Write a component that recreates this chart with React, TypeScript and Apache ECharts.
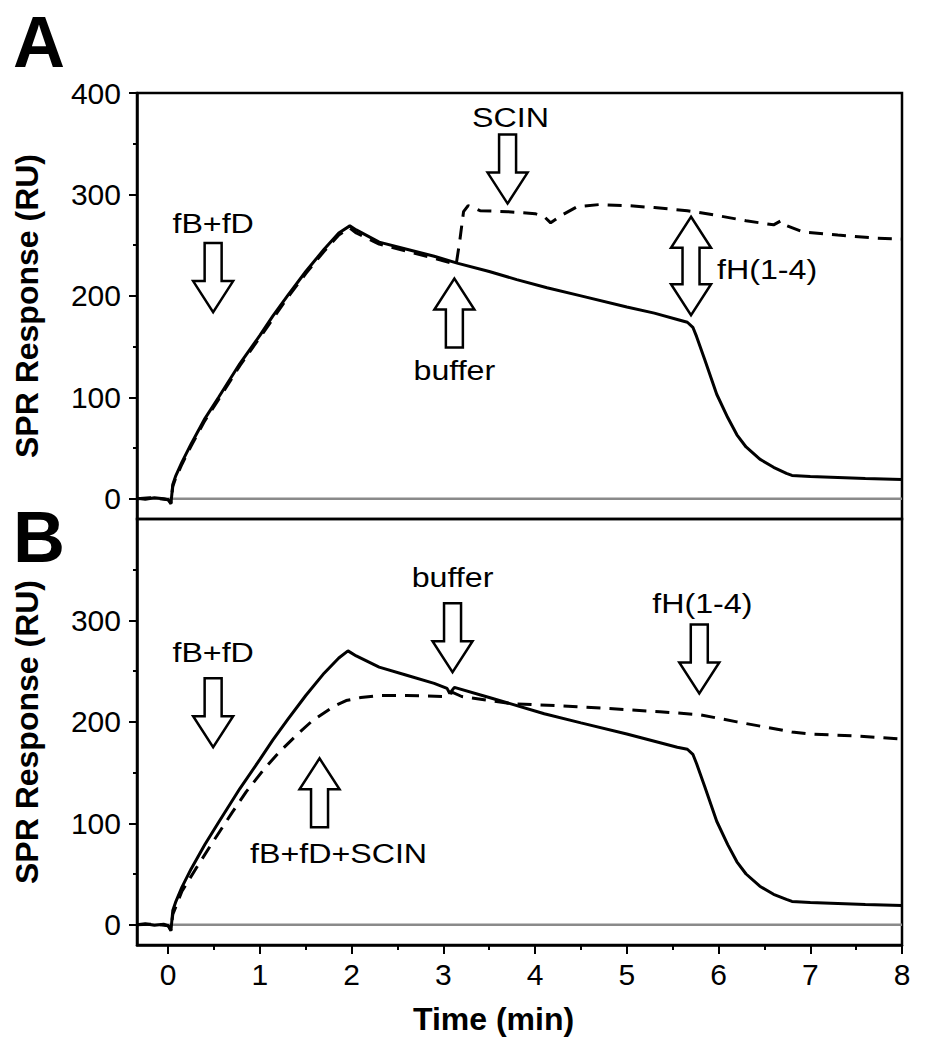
import React, { useEffect, useRef } from 'react';
import * as echarts from 'echarts';

// ---------------- data ----------------
const timeSolidA = [-0.34, -0.25, -0.15, -0.05, 0, 0.03, 0.05, 0.08, 0.15, 0.25, 0.4, 0.55, 0.78, 1.0, 1.14, 1.3, 1.5, 1.7, 1.86, 1.98, 2.05, 2.3, 2.6, 2.9, 3.16, 3.5, 3.8, 4.13, 4.5, 5.0, 5.3, 5.58, 5.66, 5.72, 5.76, 5.85, 5.98, 6.1, 6.2, 6.3, 6.45, 6.6, 6.74, 6.8, 7.0, 7.3, 7.6, 8.0];
const respSolidA = [0.5, -0.5, 1, 0, -1, -5, 14, 22, 36, 54, 79, 100, 133, 161, 180, 200, 224, 246, 262, 269, 265, 253, 246, 239, 232, 224, 216, 208, 200, 189, 183, 176, 174, 169, 160, 137, 103, 80, 63, 51, 39, 31, 25, 23, 22, 21, 20, 19];

const timeDashA = [-0.34, -0.2, -0.1, 0, 0.03, 0.05, 0.08, 0.15, 0.25, 0.4, 0.55, 0.78, 1.0, 1.3, 1.5, 1.7, 1.86, 1.98, 2.05, 2.3, 2.6, 2.9, 3.14, 3.18, 3.22, 3.27, 3.4, 3.7, 4.0, 4.1, 4.17, 4.3, 4.46, 4.7, 5.0, 5.3, 5.66, 6.0, 6.3, 6.6, 6.68, 6.72, 6.92, 7.3, 7.7, 8.0];
const respDashA = [0, 1, 0, -1, -4, 12, 20, 34, 52, 77, 98, 131, 159, 198, 222, 244, 260, 267, 262, 251, 244, 237, 231, 255, 283, 289, 284, 283, 281, 278, 272, 280, 288, 290, 289, 287, 284, 279, 274, 270, 274, 270, 263, 260, 257, 256];

const timeSolidB = [-0.34, -0.25, -0.15, -0.05, 0, 0.03, 0.05, 0.08, 0.15, 0.25, 0.4, 0.55, 0.78, 1.0, 1.14, 1.3, 1.5, 1.7, 1.86, 1.96, 2.05, 2.3, 2.6, 2.9, 3.04, 3.07, 3.12, 3.5, 4.1, 4.5, 5.0, 5.55, 5.66, 5.72, 5.76, 5.85, 5.98, 6.1, 6.2, 6.3, 6.45, 6.6, 6.74, 6.8, 7.0, 7.3, 7.6, 8.0];
const respSolidB = [0, 1, -0.5, 0.5, -1, -6, 14, 22, 37, 55, 79, 101, 134, 163, 182, 202, 226, 248, 263, 270, 265, 254, 246, 238, 233, 228, 234, 224, 208, 199, 188, 175, 173, 168, 159, 136, 102, 79, 62, 50, 38, 30, 25, 23, 22, 21, 20, 19];

const timeDashB = [-0.34, -0.2, -0.1, 0, 0.03, 0.05, 0.15, 0.3, 0.49, 0.7, 0.85, 1.05, 1.21, 1.4, 1.57, 1.8, 1.94, 2.1, 2.3, 2.6, 3.02, 3.1, 3.2, 3.74, 4.46, 5.36, 5.8, 6.2, 6.5, 6.8, 7.0, 7.5, 8.0];
const respDashB = [0, 0.5, 0, -1, -5, 10, 33, 55, 82, 111, 131, 154, 170, 187, 201, 215, 221, 224, 226, 226, 225, 229, 225, 218, 215, 210, 207, 200, 195, 190, 188, 186, 183];

const xMajorTicks = [0, 1, 2, 3, 4, 5, 6, 7, 8];
const xMinorTicks = [0.5, 1.5, 2.5, 3.5, 4.5, 5.5, 6.5, 7.5];
const yMajorTicksA = [0, 100, 200, 300, 400];
const yMajorTicksB = [0, 100, 200, 300];
const yMinorTicks = [50, 150, 250, 350];

// annotation arrows: tip position in data coordinates
const annotations = [
  { grid: 0, t: 0.49, v: 184, dir: 'down', label: 'fB+fD', dx: 0, dy: -89, align: 'center' },
  { grid: 0, t: 3.70, v: 291, dir: 'down', label: 'SCIN', dx: 3, dy: -86, align: 'center' },
  { grid: 0, t: 3.12, v: 217, dir: 'up', label: 'buffer', dx: 0, dy: 92, align: 'center' },
  { grid: 0, t: 5.70, v: 278, v2: 181, dir: 'double', label: 'fH(1-4)', dx: 26, dy: 53, align: 'left' },
  { grid: 1, t: 0.49, v: 175, dir: 'down', label: 'fB+fD', dx: 0, dy: -95, align: 'center' },
  { grid: 1, t: 3.10, v: 249, dir: 'down', label: 'buffer', dx: 0, dy: -95, align: 'center' },
  { grid: 1, t: 5.79, v: 228, dir: 'down', label: 'fH(1-4)', dx: 3, dy: -90, align: 'center' },
  { grid: 1, t: 1.65, v: 164, dir: 'up', label: 'fB+fD+SCIN', dx: 19, dy: 95, align: 'center' },
];

const FONT = '"Liberation Sans", Arial, Helvetica, sans-serif';
const X_MIN = -0.34;
const X_MAX = 8;
const Y_MIN = -20;
const Y_MAX = 400;

const zip = (ts: number[], vs: number[]) => ts.map((t, i) => [t, vs[i]]).filter((p) => p[1] !== undefined);

// arrow geometry (px)
const ARROW_LEN = 69;
const HEAD_LEN = 31;
const HEAD_W = 40;
const SHAFT_W = 17;

function arrowPoints(x: number, y: number, dir: string, y2?: number): number[][] {
  const s = SHAFT_W / 2;
  const h = HEAD_W / 2;
  if (dir === 'down') {
    return [[x - s, y - ARROW_LEN], [x + s, y - ARROW_LEN], [x + s, y - HEAD_LEN], [x + h, y - HEAD_LEN], [x, y], [x - h, y - HEAD_LEN], [x - s, y - HEAD_LEN]];
  }
  if (dir === 'up') {
    return [[x - s, y + ARROW_LEN], [x + s, y + ARROW_LEN], [x + s, y + HEAD_LEN], [x + h, y + HEAD_LEN], [x, y], [x - h, y + HEAD_LEN], [x - s, y + HEAD_LEN]];
  }
  const yb = y2 as number;
  return [
    [x, y], [x + h, y + HEAD_LEN], [x + s, y + HEAD_LEN], [x + s, yb - HEAD_LEN], [x + h, yb - HEAD_LEN],
    [x, yb], [x - h, yb - HEAD_LEN], [x - s, yb - HEAD_LEN], [x - s, y + HEAD_LEN], [x - h, y + HEAD_LEN],
  ];
}

const tickLabelStyle = { color: '#000', fontSize: 30, fontFamily: FONT };

function makeYAxes(grid: number, major: number[]) {
  return [
    {
      gridIndex: grid, type: 'value', position: 'left', min: Y_MIN, max: Y_MAX,
      name: 'SPR Response (RU)', nameLocation: 'middle', nameGap: 94,
      nameTextStyle: { color: '#000', fontSize: 32, fontWeight: 'bold', fontFamily: FONT },
      axisLine: { show: true, onZero: false, lineStyle: { color: '#000', width: 2.5 } },
      axisTick: { show: true, customValues: major, length: 8, lineStyle: { color: '#000', width: 2 } },
      axisLabel: { show: true, customValues: major, margin: 16, ...tickLabelStyle },
      splitLine: { show: false },
    },
    {
      gridIndex: grid, type: 'value', position: 'left', min: Y_MIN, max: Y_MAX,
      axisLine: { show: false, onZero: false },
      axisTick: { show: true, customValues: yMinorTicks, length: 4, lineStyle: { color: '#000', width: 2 } },
      axisLabel: { show: false },
      splitLine: { show: false },
    },
  ];
}

export default function App() {
  const ref = useRef<HTMLDivElement>(null);
  useEffect(() => {
    const chart = echarts.init(ref.current as HTMLDivElement, null, { renderer: 'svg' });
    const lineBase = { type: 'line', showSymbol: false, symbol: 'none', silent: true, z: 3 };
    const option: any = {
      animation: false,
      backgroundColor: '#fff',
      grid: [
        { left: 137, top: 93, width: 765, height: 426, show: true, borderColor: '#000', borderWidth: 2.5, backgroundColor: 'transparent' },
        { left: 137, top: 519, width: 765, height: 426, show: true, borderColor: '#000', borderWidth: 2.5, backgroundColor: 'transparent' },
      ],
      xAxis: [
        {
          gridIndex: 0, type: 'value', min: X_MIN, max: X_MAX,
          axisLine: { show: false, onZero: false }, axisTick: { show: false }, axisLabel: { show: false }, splitLine: { show: false },
        },
        {
          gridIndex: 1, type: 'value', position: 'bottom', min: X_MIN, max: X_MAX,
          name: 'Time (min)', nameLocation: 'middle', nameGap: 58,
          nameTextStyle: { color: '#000', fontSize: 32, fontWeight: 'bold', fontFamily: FONT, padding: [0, 52, 0, 0] },
          axisLine: { show: true, onZero: false, lineStyle: { color: '#000', width: 2.5 } },
          axisTick: { show: true, customValues: xMajorTicks, length: 9, lineStyle: { color: '#000', width: 2 } },
          axisLabel: { show: true, customValues: xMajorTicks, margin: 14, ...tickLabelStyle },
          splitLine: { show: false },
        },
        {
          gridIndex: 1, type: 'value', position: 'bottom', min: X_MIN, max: X_MAX,
          axisLine: { show: false, onZero: false },
          axisTick: { show: true, customValues: xMinorTicks, length: 5, lineStyle: { color: '#000', width: 2 } },
          axisLabel: { show: false }, splitLine: { show: false },
        },
      ],
      yAxis: [...makeYAxes(0, yMajorTicksA), ...makeYAxes(1, yMajorTicksB)],
      series: [
        { ...lineBase, name: 'zeroA', xAxisIndex: 0, yAxisIndex: 0, z: 1, data: [[X_MIN, 0], [X_MAX, 0]], lineStyle: { color: '#8a8a8a', width: 2.5 } },
        { ...lineBase, name: 'zeroB', xAxisIndex: 1, yAxisIndex: 2, z: 1, data: [[X_MIN, 0], [X_MAX, 0]], lineStyle: { color: '#8a8a8a', width: 2.5 } },
        { ...lineBase, name: 'A fB+fD', xAxisIndex: 0, yAxisIndex: 0, data: zip(timeSolidA, respSolidA), lineStyle: { color: '#000', width: 3 } },
        { ...lineBase, name: 'A SCIN', xAxisIndex: 0, yAxisIndex: 0, data: zip(timeDashA, respDashA), lineStyle: { color: '#000', width: 3, type: [14, 9] } },
        { ...lineBase, name: 'B fB+fD', xAxisIndex: 1, yAxisIndex: 2, data: zip(timeSolidB, respSolidB), lineStyle: { color: '#000', width: 3 } },
        { ...lineBase, name: 'B fB+fD+SCIN', xAxisIndex: 1, yAxisIndex: 2, data: zip(timeDashB, respDashB), lineStyle: { color: '#000', width: 3, type: [14, 9] } },
      ],
    };
    chart.setOption(option);

    const elements: any[] = [
      { type: 'text', x: 13, y: 42, z: 100, style: { text: 'A', fontSize: 72, fontWeight: 'bold', fontFamily: FONT, fill: '#000', align: 'left', verticalAlign: 'middle' } },
      { type: 'text', x: 13, y: 537, z: 100, style: { text: 'B', fontSize: 72, fontWeight: 'bold', fontFamily: FONT, fill: '#000', align: 'left', verticalAlign: 'middle' } },
    ];
    annotations.forEach((a: any) => {
      const finder = { xAxisIndex: a.grid, yAxisIndex: a.grid * 2 };
      const p = chart.convertToPixel(finder, [a.t, a.v]) as number[];
      let y2: number | undefined;
      if (a.dir === 'double') {
        y2 = (chart.convertToPixel(finder, [a.t, a.v2]) as number[])[1];
      }
      elements.push({
        type: 'polygon', z: 100,
        shape: { points: arrowPoints(p[0], p[1], a.dir, y2) },
        style: { fill: '#fff', stroke: '#000', lineWidth: 2.5, lineJoin: 'miter' },
      });
      elements.push({
        type: 'text', z: 101, x: p[0] + a.dx, y: p[1] + a.dy, scaleX: 1.15,
        style: { text: a.label, fontSize: 28, fontFamily: FONT, fill: '#000', align: a.align, verticalAlign: 'middle' },
      });
    });
    chart.setOption({ graphic: { elements } });

    return () => chart.dispose();
  }, []);
  return <div ref={ref} style={{ position: 'absolute', left: 0, top: 0, width: 925, height: 1050, background: '#fff' }} />;
}
